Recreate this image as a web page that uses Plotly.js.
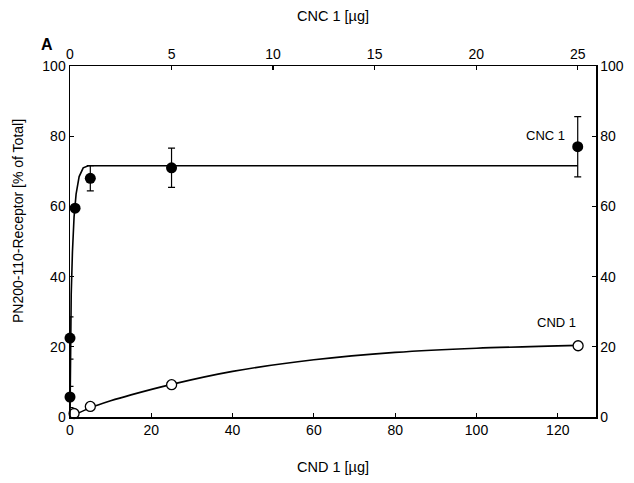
<!DOCTYPE html>
<html>
<head>
<meta charset="utf-8">
<script src="https://cdn.plot.ly/plotly-3.0.1.min.js"></script>
<style>html,body{margin:0;padding:0;background:#fff;}#chart{width:634px;height:483px;}</style>
</head>
<body>
<div id="chart"></div>
<script>
// CND 1 (bottom axis, µg) – open circles
var cndX = [1, 5, 25, 125];
var cndY = [1, 3, 9.2, 20.3];
// CND 1 fitted curve
var cndCurveX = [0, 5, 10, 15, 25, 40, 60, 80, 100, 125];
var cndCurveY = [0, 2.6, 4.6, 6.3, 9.3, 13, 16.3, 18.4, 19.6, 20.4];

// CNC 1 (top axis, µg) – filled circles with error bars
var cncX = [0, 0, 0.25, 1, 5, 25];
var cncY = [5.7, 22.5, 59.5, 68, 71, 77];
var cncErr = [3, 6, 0, 3.6, 5.6, 8.6];
// CNC 1 fitted curve
var cncCurveX = [0, 0.02, 0.06, 0.12, 0.2, 0.3, 0.45, 0.65, 0.9, 1.5, 25];
var cncCurveY = [0, 20, 35, 47, 57, 63.5, 68.5, 71, 71.6, 71.6, 71.6];

var bottomTicks = [0, 20, 40, 60, 80, 100, 120];
var topTicks = [0, 5, 10, 15, 20, 25];
var yTicks = [0, 20, 40, 60, 80, 100];

var FONT = 'Liberation Sans, Arial, Helvetica, sans-serif';

var traces = [
  {x: cndCurveX, y: cndCurveY, xaxis: 'x', yaxis: 'y', mode: 'lines',
   line: {color: '#000', width: 1.6, shape: 'spline', smoothing: 0.8}, hoverinfo: 'skip'},
  {x: cncCurveX, y: cncCurveY, xaxis: 'x2', yaxis: 'y2', mode: 'lines',
   line: {color: '#000', width: 1.6}, hoverinfo: 'skip'},
  {x: cndX, y: cndY, xaxis: 'x', yaxis: 'y', mode: 'markers', cliponaxis: false,
   marker: {symbol: 'circle', size: 10, color: '#fff', line: {color: '#000', width: 1.3}}},
  {x: cncX, y: cncY, xaxis: 'x2', yaxis: 'y2', mode: 'markers', cliponaxis: false,
   marker: {symbol: 'circle', size: 11, color: '#000'},
   error_y: {type: 'data', array: cncErr, visible: true, color: '#000', thickness: 1.2, width: 3.5}}
];

var axisCommon = {
  showline: true, linecolor: '#000', linewidth: 1.5, mirror: false,
  ticks: 'inside', ticklen: 4, tickwidth: 1.2, tickcolor: '#000',
  showgrid: false, zeroline: false,
  tickfont: {family: FONT, size: 14, color: '#000'}
};

var layout = {
  width: 634, height: 483,
  margin: {l: 70, r: 38, t: 66, b: 66},
  paper_bgcolor: '#fff', plot_bgcolor: '#fff',
  showlegend: false,
  font: {family: FONT, color: '#000'},
  xaxis: Object.assign({}, axisCommon, {range: [0, 129.4], tickvals: bottomTicks, side: 'bottom'}),
  xaxis2: Object.assign({}, axisCommon, {range: [0, 25.9], tickvals: topTicks, side: 'top', overlaying: 'x'}),
  yaxis: Object.assign({}, axisCommon, {range: [0, 100], tickvals: yTicks, side: 'left'}),
  yaxis2: Object.assign({}, axisCommon, {range: [0, 100], tickvals: yTicks, side: 'right', overlaying: 'y'}),
  annotations: [
    {text: '<b>A</b>', xref: 'paper', yref: 'paper', x: -0.044, y: 1.06, showarrow: false,
     xanchor: 'center', yanchor: 'middle', font: {family: FONT, size: 16}},
    {text: 'CNC 1 [µg]', xref: 'paper', yref: 'paper', x: 0.5, y: 1.142, showarrow: false,
     xanchor: 'center', yanchor: 'middle', font: {family: FONT, size: 14.5}},
    {text: 'CND 1 [µg]', xref: 'paper', yref: 'paper', x: 0.5, y: -0.142, showarrow: false,
     xanchor: 'center', yanchor: 'middle', font: {family: FONT, size: 14.5}},
    {text: 'PN200-110-Receptor [% of Total]', xref: 'paper', yref: 'paper', x: -0.099, y: 0.558,
     textangle: -90, showarrow: false, xanchor: 'center', yanchor: 'middle', font: {family: FONT, size: 14}},
    {text: 'CNC 1', xref: 'x2', yref: 'y2', x: 23.4, y: 80.3, showarrow: false,
     xanchor: 'center', yanchor: 'middle', font: {family: FONT, size: 13}},
    {text: 'CND 1', xref: 'x', yref: 'y', x: 119.8, y: 27, showarrow: false,
     xanchor: 'center', yanchor: 'middle', font: {family: FONT, size: 13}}
  ]
};

Plotly.newPlot('chart', traces, layout, {staticPlot: true, displayModeBar: false});
</script>
</body>
</html>
